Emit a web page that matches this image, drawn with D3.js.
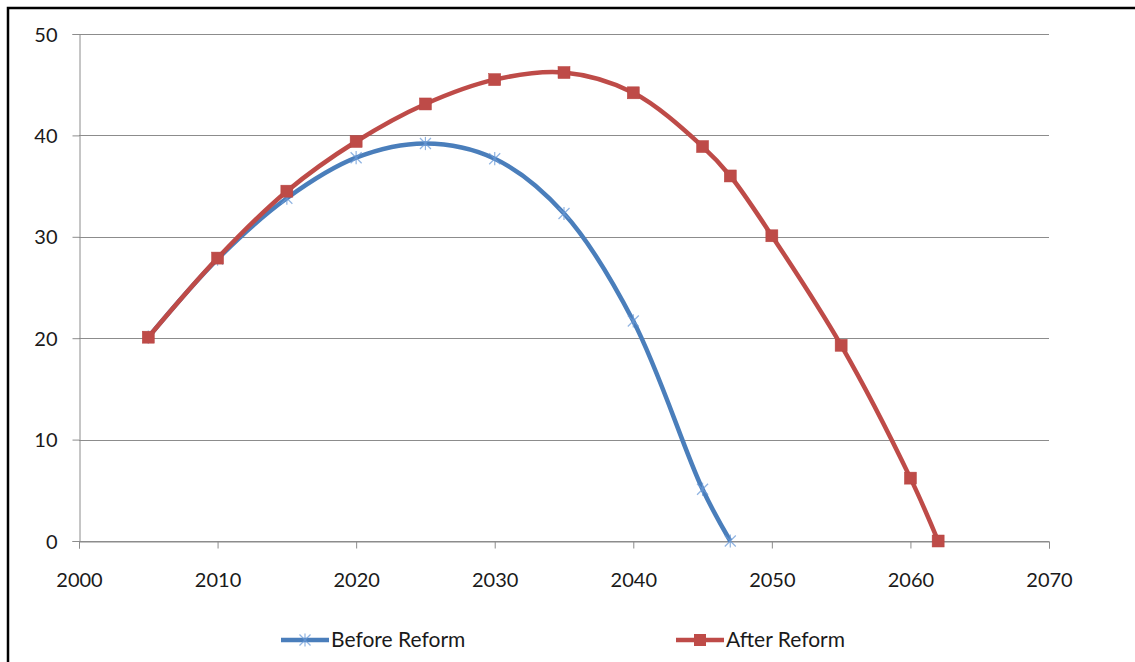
<!DOCTYPE html>
<html><head><meta charset="utf-8">
<script src="https://cdn.jsdelivr.net/npm/d3@7"></script>
<style>body{margin:0;background:#fff;} svg{display:block;}</style>
</head><body>
<svg id="chart" width="1135" height="662"></svg>
<script>
const beforeYears = [2005, 2010, 2015, 2020, 2025, 2030, 2035, 2040, 2045, 2047];
const beforeValues = [20.1, 27.8, 33.8, 37.8, 39.2, 37.7, 32.3, 21.7, 5.1, 0];
const afterYears = [2005, 2010, 2015, 2020, 2025, 2030, 2035, 2040, 2045, 2047, 2050, 2055, 2060, 2062];
const afterValues = [20.1, 27.9, 34.5, 39.4, 43.1, 45.5, 46.2, 44.2, 38.9, 36.0, 30.1, 19.3, 6.2, 0];
const xTicks = [2000, 2010, 2020, 2030, 2040, 2050, 2060, 2070];
const yTicks = [0, 10, 20, 30, 40, 50];
const seriesNames = ["Before Reform", "After Reform"];

const svg = d3.select("#chart");
const font = "Lato, 'Open Sans', sans-serif";
svg.append("rect").attr("x", 8).attr("y", 8).attr("width", 1140).attr("height", 670)
  .attr("fill", "#fff").attr("stroke", "#000").attr("stroke-width", 2.5);

const x = d3.scaleLinear().domain([2000, 2070]).range([79, 1049]);
const y = d3.scaleLinear().domain([0, 50]).range([541, 34]);

// gridlines
svg.append("g").selectAll("line").data(yTicks).join("line")
  .attr("x1", x(2000)).attr("x2", x(2070))
  .attr("y1", d => Math.round(y(d)) + 0.5).attr("y2", d => Math.round(y(d)) + 0.5)
  .attr("stroke", "#8c8c8c").attr("stroke-width", 1);

const yAxis = svg.append("g").attr("transform", `translate(${x(2000)+0.5},0)`)
  .call(d3.axisLeft(y).tickValues(yTicks).tickSize(7));
const xAxis = svg.append("g").attr("transform", `translate(0,${Math.round(y(0))+0.5})`)
  .call(d3.axisBottom(x).tickValues(xTicks).tickFormat(d3.format("d")).tickSize(7));
[yAxis, xAxis].forEach(g => {
  g.select(".domain").attr("stroke", "#8c8c8c");
  g.selectAll(".tick line").attr("stroke", "#8c8c8c");
  g.selectAll("text").attr("fill", "#1a1a1a").style("font-family", font).style("font-size", "20px");
});
yAxis.selectAll("text").attr("dy", "0.35em").attr("x", -22);
xAxis.selectAll("text").attr("dy", "0.35em").attr("y", 38);

const blue = "#4a7ebb", red = "#be4b48";
const line = d3.line().x(d => x(d[0])).y(d => y(d[1])).curve(d3.curveCatmullRom.alpha(0.5));
const bData = beforeYears.map((v, i) => [v, beforeValues[i]]);
const aData = afterYears.map((v, i) => [v, afterValues[i]]);

function star(g, cx, cy, r, color) {
  const s = g.append("g").attr("transform", `translate(${cx},${cy})`).attr("stroke", color).attr("stroke-width", 1.2).attr("opacity", 0.75);
  s.append("line").attr("x1", -r).attr("x2", r).attr("y1", -r).attr("y2", r);
  s.append("line").attr("x1", -r).attr("x2", r).attr("y1", r).attr("y2", -r);
  s.append("line").attr("x1", 0).attr("x2", 0).attr("y1", -r*1.2).attr("y2", r*1.2);
}

svg.append("path").datum(bData).attr("d", line).attr("fill", "none").attr("stroke", blue).attr("stroke-width", 4.5);
const bm = svg.append("g");
bData.forEach(d => star(bm, x(d[0]), y(d[1]), 5.5, "#6b9bd8"));

svg.append("path").datum(aData).attr("d", line).attr("fill", "none").attr("stroke", red).attr("stroke-width", 4.5);
svg.append("g").selectAll("rect").data(aData).join("rect")
  .attr("x", d => x(d[0]) - 6).attr("y", d => y(d[1]) - 6).attr("width", 12).attr("height", 12)
  .attr("fill", red).attr("stroke", "#b84440").attr("stroke-width", 0.5);

// legend
const leg = svg.append("g");
leg.append("line").attr("x1", 281).attr("x2", 329).attr("y1", 640).attr("y2", 640).attr("stroke", blue).attr("stroke-width", 4.5);
star(leg, 305, 640, 5.5, "#6b9bd8");
leg.append("text").attr("x", 331).attr("y", 640).attr("dy", "0.35em").text(seriesNames[0])
  .style("font-family", font).style("font-size", "21px").attr("fill", "#1a1a1a");
leg.append("line").attr("x1", 676).attr("x2", 724).attr("y1", 640).attr("y2", 640).attr("stroke", red).attr("stroke-width", 4.5);
leg.append("rect").attr("x", 694).attr("y", 634).attr("width", 12).attr("height", 12).attr("fill", red);
leg.append("text").attr("x", 726).attr("y", 640).attr("dy", "0.35em").text(seriesNames[1])
  .style("font-family", font).style("font-size", "21px").attr("fill", "#1a1a1a");
</script>
</body></html>
